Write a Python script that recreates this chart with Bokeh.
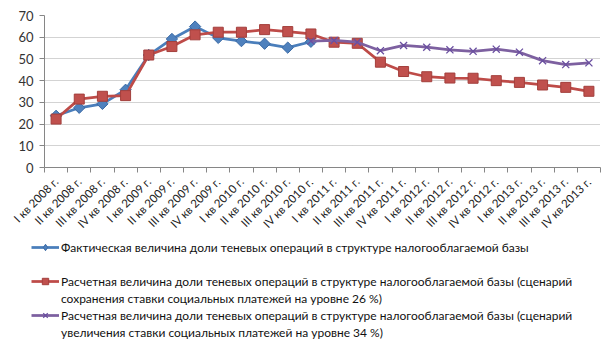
import math
from bokeh.plotting import figure
from bokeh.layouts import column
from bokeh.models import Range1d, FixedTicker, Legend, LegendItem, ColumnDataSource
from bokeh.embed import file_html
from bokeh.resources import INLINE

categories = [
    "I кв 2008 г.", "II кв 2008 г.", "III кв 2008 г.", "IV кв 2008 г.",
    "I кв 2009 г.", "II кв 2009 г.", "III кв 2009 г.", "IV кв 2009 г.",
    "I кв 2010 г.", "II кв 2010 г.", "III кв 2010 г.", "IV кв 2010 г.",
    "I кв 2011 г.", "II кв 2011 г.", "III кв 2011 г.", "IV кв 2011 г.",
    "I кв 2012 г.", "II кв 2012 г.", "III кв 2012 г.", "IV кв 2012 г.",
    "I кв 2013 г.", "II кв 2013 г.", "III кв 2013 г.", "IV кв 2013 г.",
]
nan = float("nan")
actual = [23.8, 27.5, 29.3, 35.8, 51.8, 59.2, 64.9, 59.7, 58.2, 57.0, 55.2, 57.9,
          nan, nan, nan, nan, nan, nan, nan, nan, nan, nan, nan, nan]
scenario_26 = [22.3, 31.5, 32.8, 33.1, 51.8, 55.7, 61.1, 62.3, 62.3, 63.5, 62.6, 61.5,
               57.7, 57.2, 48.5, 44.2, 41.8, 41.2, 41.1, 40.0, 39.2, 38.0, 36.9, 35.1]
scenario_34 = [nan, nan, nan, nan, nan, nan, nan, nan, nan, nan, nan, 58.2,
               58.5, 57.7, 53.8, 56.2, 55.4, 54.2, 53.5, 54.5, 53.1, 49.2, 47.4, 48.2]

legend_labels = [
    ["Фактическая величина доли теневых операций в структуре налогооблагаемой базы"],
    ["Расчетная величина доли теневых операций в структуре налогооблагаемой базы (сценарий",
     "сохранения ставки социальных платежей на уровне 26 %)"],
    ["Расчетная величина доли теневых операций в структуре налогооблагаемой базы (сценарий",
     "увеличения ставки социальных платежей на уровне 34 %)"],
]

xs = list(range(len(categories)))
src = ColumnDataSource(dict(x=xs, actual=actual, s26=scenario_26, s34=scenario_34))
cols = ["actual", "s26", "s34"]

FONT = "Lato"

LINE = [
    dict(line_color="#4a7ebb", line_width=2.75),
    dict(line_color="#be4b48", line_width=2.75),
    dict(line_color="#7d60a0", line_width=2.75),
]
MARK = [
    dict(marker="square", angle=math.pi / 4, size=8,
         fill_color="#4f81bd", line_color="#3a6aa5", line_width=1),
    dict(marker="square", size=10, fill_color="#c0504d", line_color="#a33f3c", line_width=1),
    dict(marker="x", size=10, line_color="#6a4fa0", line_width=1.3),
]
KEY_MARK = [
    dict(marker="diamond", size=10, fill_color="#4f81bd", line_color="#3a6aa5", line_width=1),
    dict(marker="square", size=8, fill_color="#c0504d", line_color="#a33f3c", line_width=1),
    dict(marker="x", size=8, line_color="#6a4fa0", line_width=1.2),
]

p = figure(width=615, height=237, output_backend="svg", toolbar_location=None,
           min_border_left=44, min_border_right=15, min_border_top=15, min_border_bottom=70)
p.x_range = Range1d(-0.5, len(categories) - 0.5)
p.y_range = Range1d(0, 70)
p.outline_line_color = None
p.background_fill_color = "white"
p.border_fill_color = "white"

p.xgrid.visible = False
p.ygrid.grid_line_color = "#a6a6a6"
p.ygrid.grid_line_dash = "1 1"
p.ygrid.grid_line_width = 1

p.yaxis.ticker = FixedTicker(ticks=list(range(0, 71, 10)))
p.yaxis.axis_line_color = "#868686"
p.yaxis.major_tick_line_color = "#868686"
p.yaxis.major_tick_out = 5
p.yaxis.major_tick_in = 0
p.yaxis.minor_tick_line_color = None
p.yaxis.major_label_text_font = FONT
p.yaxis.major_label_text_font_size = "13px"
p.yaxis.major_label_text_color = "#333333"
p.yaxis.major_label_standoff = 6

p.xaxis.ticker = FixedTicker(ticks=xs, minor_ticks=[i - 0.5 for i in range(len(categories) + 1)])
p.xaxis.major_label_overrides = {i: c for i, c in enumerate(categories)}
p.xaxis.major_label_orientation = math.pi / 4
p.xaxis.axis_line_color = "#868686"
p.xaxis.major_tick_line_color = None
p.xaxis.minor_tick_line_color = "#868686"
p.xaxis.minor_tick_out = 5
p.xaxis.minor_tick_in = 0
p.xaxis.major_label_text_font = FONT
p.xaxis.major_label_text_font_size = "11.5px"
p.xaxis.major_label_text_color = "#222222"
p.xaxis.major_label_standoff = 6

for col, ln, mk in zip(cols, LINE, MARK):
    p.line("x", col, source=src, **ln)
    p.scatter("x", col, source=src, **mk)

# legend panel below the chart
q = figure(width=615, height=117, output_backend="svg", toolbar_location=None,
           min_border=0, min_border_left=0, min_border_right=0, min_border_top=0,
           min_border_bottom=0, x_axis_location=None, y_axis_location=None)
q.x_range = Range1d(0, 615)
q.y_range = Range1d(0, 117)
q.outline_line_color = None
q.xgrid.visible = False
q.ygrid.visible = False

aligned = True
for f in (p, q):
    if "frame_align" in f.properties():
        f.frame_align = False
        aligned = False

keys = []
for col, ln, mk in zip(cols, LINE, KEY_MARK):
    kl = q.line("x", col, source=src, visible=False, **ln)
    km = q.scatter("x", col, source=src, visible=False, **mk)
    keys.append([kl, km])
blank = q.line(x=[], y=[], line_alpha=0)

items = [
    LegendItem(label=legend_labels[0][0], renderers=keys[0]),
    LegendItem(label=" ", renderers=[blank]),
    LegendItem(label=legend_labels[1][0], renderers=keys[1]),
    LegendItem(label=legend_labels[1][1], renderers=[blank]),
    LegendItem(label=legend_labels[2][0], renderers=keys[2]),
    LegendItem(label=legend_labels[2][1], renderers=[blank]),
]
legend = Legend(items=items, location=((-13 if aligned else 31), 14), orientation="vertical",
                padding=0, margin=0, spacing=1, label_height=16, glyph_height=16,
                glyph_width=28, label_standoff=2,
                label_text_font=FONT, label_text_font_size="12px",
                label_text_color="#111111", inactive_fill_alpha=0,
                border_line_color=None, background_fill_alpha=0)
q.add_layout(legend, "center")

layout = column(p, q, spacing=0)
open("out.html", "w").write(file_html(layout, INLINE))
